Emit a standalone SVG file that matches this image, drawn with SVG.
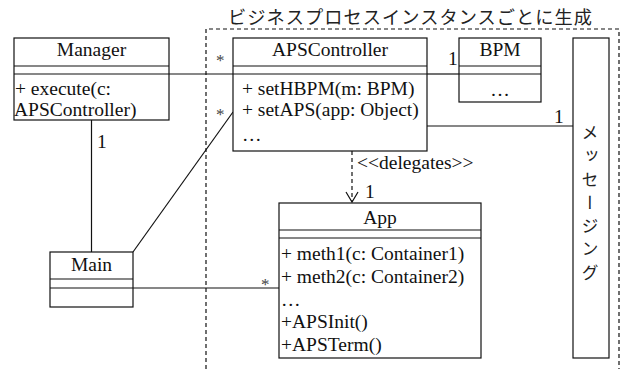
<svg xmlns="http://www.w3.org/2000/svg" width="621" height="369" viewBox="0 0 621 369">
<style>
.box{fill:#fff;stroke:#111;stroke-width:1.2}
.ln{fill:none;stroke:#111;stroke-width:1.2}
.dash{fill:none;stroke:#111;stroke-width:1.2;stroke-dasharray:4 3}
.t{font-size:19.5px;fill:#111}
.c{text-anchor:middle}
.m{font-size:19.5px;fill:#111}
.ast{font-size:17px;fill:#444}
.jp{font-family:'Noto Sans CJK JP','Noto Sans',sans-serif;fill:#222}
</style>
<g id="region">
<path class="dash" d="M206,369 V29 H619 V369"/>
<text class="jp" x="228" y="24" font-size="18.2" textLength="364" lengthAdjust="spacing">ビジネスプロセスインスタンスごとに生成</text>
</g>
<g font-family="Liberation Serif, Tinos, DejaVu Serif, Noto Serif, Times, serif">
<g id="connectors">
<line class="ln" x1="169" y1="74" x2="233" y2="74"/>
<line class="ln" x1="427" y1="74" x2="459" y2="74"/>
<line class="ln" x1="91.5" y1="120" x2="91.5" y2="252"/>
<line class="ln" x1="133" y1="252" x2="233" y2="112"/>
<line class="ln" x1="133" y1="288" x2="279" y2="288"/>
<line class="ln" x1="427" y1="126" x2="573" y2="126"/>
<line class="dash" x1="352" y1="151" x2="352" y2="201"/>
<polyline class="ln" points="346,192 352,202 358,192"/>
<text class="ast" x="216" y="66">*</text>
<text class="ast" x="216" y="120">*</text>
<text class="ast" x="261" y="290">*</text>
<text class="m" x="448" y="65">1</text>
<text class="m" x="554" y="123">1</text>
<text class="m" x="97" y="148">1</text>
<text class="m" x="365" y="198">1</text>
<text class="m" x="357" y="169">&lt;&lt;delegates&gt;&gt;</text>
</g>
<g id="Manager">
<rect class="box" x="14" y="38" width="155" height="82"/>
<line class="ln" x1="14" y1="66" x2="169" y2="66"/>
<line class="ln" x1="14" y1="74" x2="169" y2="74"/>
<text class="t c" x="91.5" y="56">Manager</text>
<text class="t" x="15" y="95">+ execute(c:</text>
<text class="t" x="14" y="116">APSController)</text>
</g>
<g id="APSController">
<rect class="box" x="233" y="38" width="194" height="113"/>
<line class="ln" x1="233" y1="66" x2="427" y2="66"/>
<line class="ln" x1="233" y1="74" x2="427" y2="74"/>
<text class="t c" x="330" y="56">APSController</text>
<text class="t" x="242" y="95">+ setHBPM(m: BPM)</text>
<text class="t" x="242" y="116">+ setAPS(app: Object)</text>
<text class="t" x="242" y="141">…</text>
</g>
<g id="BPM">
<rect class="box" x="459" y="38" width="82" height="64"/>
<line class="ln" x1="459" y1="66" x2="541" y2="66"/>
<line class="ln" x1="459" y1="74" x2="541" y2="74"/>
<text class="t c" x="500" y="56">BPM</text>
<text class="t c" x="500" y="96">…</text>
</g>
<g id="App">
<rect class="box" x="279" y="203" width="202" height="155"/>
<line class="ln" x1="279" y1="230" x2="481" y2="230"/>
<line class="ln" x1="279" y1="238" x2="481" y2="238"/>
<text class="t c" x="380" y="224">App</text>
<text class="t" x="281" y="260">+ meth1(c: Container1)</text>
<text class="t" x="281" y="283">+ meth2(c: Container2)</text>
<text class="t" x="281" y="306">…</text>
<text class="t" x="281" y="328">+APSInit()</text>
<text class="t" x="281" y="351">+APSTerm()</text>
</g>
<g id="Main">
<rect class="box" x="50" y="252" width="83" height="55"/>
<line class="ln" x1="50" y1="279" x2="133" y2="279"/>
<line class="ln" x1="50" y1="288" x2="133" y2="288"/>
<text class="t c" x="91.5" y="271">Main</text>
</g>
</g>
<g id="Messaging">
<rect class="box" x="573" y="38" width="36" height="320"/>
<text class="jp" x="590" y="124" font-size="17" letter-spacing="6.3" writing-mode="vertical-rl">メッセージング</text>
</g>
</svg>
